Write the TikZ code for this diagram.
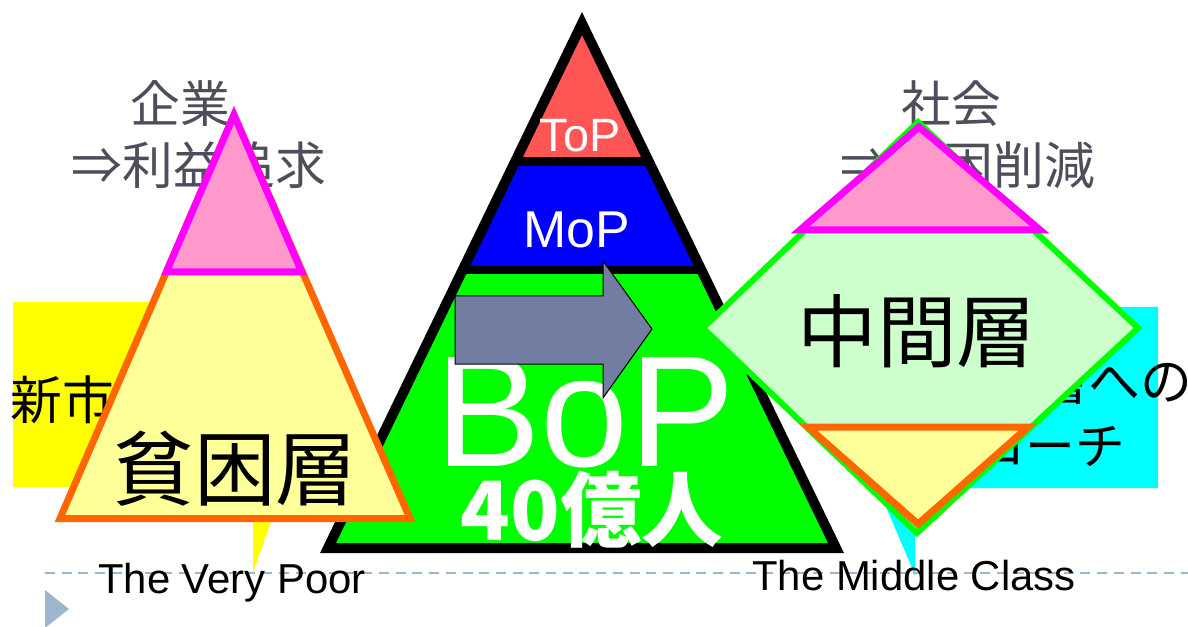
\documentclass[tikz,border=0pt]{standalone}
\usepackage{fontspec}
\setmainfont{Liberation Sans}
\newfontfamily\jp{Noto Sans CJK JP}
\definecolor{labelgray}{HTML}{4D4D5C}
\definecolor{calloutyellow}{HTML}{FFFF00}
\definecolor{calloutcyan}{HTML}{00FFFF}
\definecolor{orangeline}{HTML}{FF6600}
\definecolor{paleyellow}{HTML}{FFFF99}
\definecolor{magline}{HTML}{FF00FF}
\definecolor{pinkfill}{HTML}{FF99CC}
\definecolor{greenline}{HTML}{00FF00}
\definecolor{palegreen}{HTML}{CCFFCC}
\definecolor{topred}{HTML}{FF5555}
\definecolor{mopblue}{HTML}{0000FF}
\definecolor{bopgreen}{HTML}{00FF00}
\definecolor{arrowfill}{HTML}{737CA1}
\definecolor{rulecol}{HTML}{9DB5CD}
\tikzset{
  toplabel/.style={font=\jp\fontsize{50}{60}\selectfont, text=labelgray, anchor=base},
  callouttext/.style={font=\jp\fontsize{52}{56}\selectfont, text=black},
  bigjp/.style={font=\jp\fontsize{#1}{#1}\selectfont, text=black, anchor=base},
  whitetext/.style={font=\fontsize{#1}{#1}\selectfont, text=white, anchor=base},
  bottomtext/.style={font=\fontsize{42}{46}\selectfont, text=black, anchor=base},
  layerline/.style={line width=7bp, line join=miter},
  dashline/.style={draw=rulecol, line width=1.6bp, dash pattern=on 10bp off 6.7bp}
}
\begin{document}
\begin{tikzpicture}[x=1bp, y=-1bp, every node/.style={inner sep=0pt, outer sep=0pt}]
\useasboundingbox (0,0) rectangle (1188,627);

% top labels
\node[toplabel] (kigyo) at (180,123) {企業};
\node[toplabel, font=\jp\fontsize{51}{60}\selectfont] (rieki) at (199,185) {⇒利益追求};
\node[toplabel] (shakai) at (951,123) {社会};
\node[toplabel, font=\jp\fontsize{51}{60}\selectfont] (sakugen) at (968,185) {⇒貧困削減};

% callouts
\fill[calloutyellow] (13,302) -- (290,302) -- (290,487) -- (283,487) -- (253,573) -- (253,487) -- (13,487) -- cycle;
\node[callouttext, anchor=base west] (shinshijo) at (10.5,419) {新市場};
\fill[calloutcyan] (878,307) -- (1158,307) -- (1158,488) -- (915,488) -- (915,575) -- (878,488) -- cycle;
\node[callouttext, anchor=base east] (chukanhe) at (1192,400) {中間層への};
\node[callouttext, font=\jp\fontsize{50}{54}\selectfont, anchor=base east] (approach) at (1125,464) {アプローチ};

% rule and bullet
\coordinate (ruleL) at (45,573);
\coordinate (ruleR) at (1188,573);
\draw[dashline] (ruleL) -- (ruleR);
\fill[rulecol] (45,590) -- (69,609) -- (45,628) -- cycle;

% central pyramid
\begin{scope}
  \clip (582,23.5) -- (836,548) -- (328,548) -- cycle;
  \fill[topred] (300,0) rectangle (860,161.5);
  \fill[mopblue] (300,161.5) rectangle (860,270);
  \fill[bopgreen] (300,270) rectangle (860,560);
  \draw[line width=9bp] (300,161.5) -- (860,161.5);
  \draw[line width=8bp] (300,270) -- (860,270);
\end{scope}
\draw[line width=10bp, line join=miter] (582,23.5) -- (836,548) -- (328,548) -- cycle;
\node[whitetext=47] (top) at (580,152) {ToP};
\node[whitetext=52] (mop) at (577,248) {MoP};
\node[whitetext=159] (bop) at (585,466) {BoP};
\node[font=\jp\bfseries\fontsize{82}{84}\selectfont, text=white, anchor=base] (oku) at (592,540) {40億人};

% block arrow
\filldraw[fill=arrowfill, draw=black, line width=1bp, line join=miter]
  (455,296) -- (603,296) -- (603,261) -- (652,329) -- (603,398) -- (603,364) -- (455,364) -- cycle;

% left pyramid (poor)
\filldraw[fill=paleyellow, draw=orangeline, layerline] (234,115) -- (410,518.5) -- (60,518.5) -- cycle;
\filldraw[fill=pinkfill, draw=magline, layerline] (234,115) -- (301.7,272) -- (166.3,272) -- cycle;
\node[bigjp=82] (hinkon) at (235,499) {貧困層};

% diamond (middle class)
\filldraw[fill=palegreen, draw=greenline, line width=6bp, line join=miter] (918,122) -- (1138,328) -- (917,533) -- (703,328) -- cycle;
\filldraw[fill=pinkfill, draw=magline, layerline] (919,127) -- (1040,230) -- (800,230) -- cycle;
\filldraw[fill=paleyellow, draw=orangeline, layerline] (808,427) -- (1028,427) -- (918,524) -- cycle;
\node[bigjp=80] (chukan) at (917,361) {中間層};

% bottom labels
\node[bottomtext] (verypoor) at (232,593) {The Very Poor};
\node[bottomtext] (middle) at (914,590) {The Middle Class};
\end{tikzpicture}
\end{document}
